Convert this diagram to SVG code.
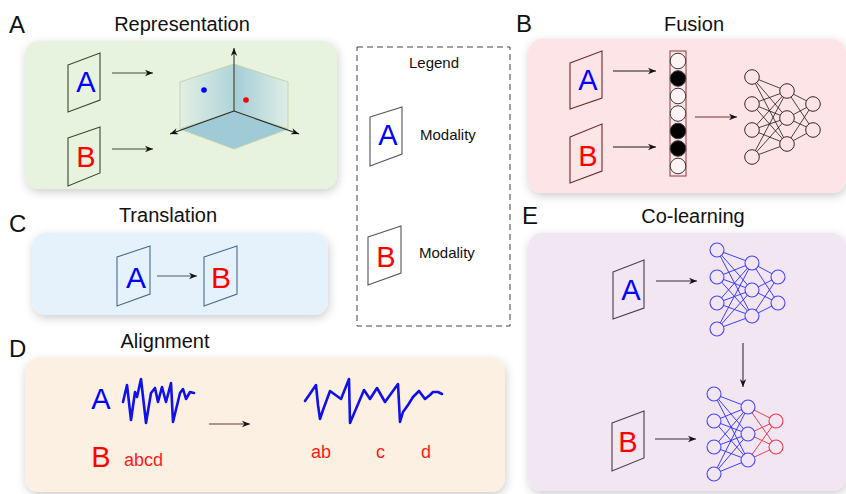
<svg xmlns="http://www.w3.org/2000/svg" width="846" height="494" viewBox="0 0 846 494">
<style>
text{font-family:"Liberation Sans",Arial,sans-serif}
.title{font-size:20px;fill:#111;text-anchor:middle}
.plabel{font-size:24px;fill:#111}
.la{font-size:29px;fill:#0000ff;text-anchor:middle}
.lb{font-size:29px;fill:#ff0000;text-anchor:middle}
.panel{filter:url(#sh)}
.card{fill:none;stroke-width:1.1}
.leg{font-size:15px;fill:#111}
.arr{fill:none;stroke-width:1.1;marker-end:url(#ah)}
.nnb line{stroke:#1a1a1a;stroke-width:0.8}
.nnb circle{fill:#fde5e7;stroke:#4a2020;stroke-width:1}
.blue line{stroke:#2b2bff;stroke-width:0.9}
.blue circle{fill:#f2e6f3;stroke:#4545ff;stroke-width:1.1}
.red line{stroke:#e83040;stroke-width:0.9}
.red circle{fill:#f2e6f3;stroke:#ec3a4a;stroke-width:1.1}
.wave{fill:none;stroke:#1010e8;stroke-width:2.6;stroke-linejoin:round;stroke-linecap:round}
.ab{font-size:18px;fill:#ff1a1a}
</style>
<defs>
<filter id="sh" x="-10%" y="-15%" width="120%" height="130%">
<feDropShadow dx="1" dy="3" stdDeviation="5" flood-color="#000" flood-opacity="0.2"/>
</filter>
<marker id="ah" viewBox="0 0 10 10" refX="10" refY="5" markerWidth="8" markerHeight="8" markerUnits="userSpaceOnUse" orient="auto">
<path d="M0,1 L10,5 L0,9 L3,5 Z" fill="#111"/>
</marker>
<linearGradient id="lw" x1="0" y1="0" x2="1" y2="0">
<stop offset="0" stop-color="#e3efe3"/>
<stop offset="1" stop-color="#b0d4da"/>
</linearGradient>
<linearGradient id="rw" x1="0" y1="0" x2="1" y2="0">
<stop offset="0" stop-color="#a3cdd7"/>
<stop offset="1" stop-color="#dfede6"/>
</linearGradient>
</defs>
<rect width="846" height="494" fill="#ffffff"/>

<!-- Panel A: Representation -->
<g id="panelA">
<rect class="panel" x="25" y="41" width="312" height="148" rx="14" fill="#e8f3df"/>
<text class="plabel" x="9" y="33">A</text>
<text class="title" x="182" y="31">Representation</text>
<g id="repA">
<path class="card" d="M68,65 L100,53 L100,100 L68,112 Z" stroke="#3b4a2b"/>
<text class="la" x="86" y="92">A</text>
</g>
<g id="repB">
<path class="card" d="M68,138 L100,127 L100,173 L68,186 Z" stroke="#3b4a2b"/>
<text class="lb" x="86" y="167">B</text>
</g>
<g id="space">
<path d="M180,82 L234,64 L234,111 L180,129 Z" fill="url(#lw)" stroke="#c5d2ad" stroke-width="1"/>
<path d="M234,64 L288,82 L288,129 L234,111 Z" fill="url(#rw)" stroke="#c5d2ad" stroke-width="1"/>
<path d="M180,129 L234,111 L288,129 L234,149 Z" fill="#a0cbd6" stroke="#c5d2ad" stroke-width="1"/>
<line x1="234" y1="111" x2="234" y2="48" stroke="#3a3a3a" stroke-width="1.1" marker-end="url(#ah)"/>
<line x1="234" y1="111" x2="170" y2="134" stroke="#2a2a2a" stroke-width="1.1" marker-end="url(#ah)"/>
<line x1="234" y1="111" x2="299" y2="134" stroke="#2a2a2a" stroke-width="1.1" marker-end="url(#ah)"/>
<circle cx="204" cy="90" r="2.8" fill="#0000ff"/>
<circle cx="246" cy="100" r="2.8" fill="#ff0000"/>
</g>
</g>

<!-- Legend -->
<g id="legend">
<rect x="357" y="47" width="153" height="279" fill="#ffffff" stroke="#444" stroke-width="1" stroke-dasharray="6 4"/>
<text class="leg" x="434" y="68" text-anchor="middle">Legend</text>
<g id="legendA">
<path class="card" d="M370,117 L402,107 L402,154 L370,166 Z" stroke="#555"/>
<text class="la" x="388" y="145">A</text>
<text class="leg" x="420" y="140">Modality</text>
</g>
<g id="legendB">
<path class="card" d="M368,237 L401,226 L401,273 L368,285 Z" stroke="#555"/>
<text class="lb" x="386" y="267">B</text>
<text class="leg" x="419" y="258">Modality</text>
</g>
</g>

<!-- Panel B: Fusion -->
<g id="panelB">
<rect class="panel" x="528" y="39" width="318" height="154" rx="14" fill="#fde5e7"/>
<text class="plabel" x="516" y="32">B</text>
<text class="title" x="694" y="31">Fusion</text>
<g id="fusA">
<path class="card" d="M570,63 L602,51 L602,98 L570,109 Z" stroke="#6b2a2a"/>
<text class="la" x="588" y="90">A</text>
</g>
<g id="fusB">
<path class="card" d="M570,137 L602,124 L602,171 L570,183 Z" stroke="#6b2a2a"/>
<text class="lb" x="588" y="166">B</text>
</g>
<g id="fusVector">
<rect x="670" y="51" width="16" height="125" fill="none" stroke="#8b3a3a" stroke-width="1"/>
<g stroke="#3a3a3a" stroke-width="1">
<circle cx="678" cy="61" r="7.8" fill="#fff3f4"/>
<circle cx="678" cy="78.5" r="7.8" fill="#000"/>
<circle cx="678" cy="96" r="7.8" fill="#fff3f4"/>
<circle cx="678" cy="113.5" r="7.8" fill="#fff3f4"/>
<circle cx="678" cy="131" r="7.8" fill="#000"/>
<circle cx="678" cy="148.5" r="7.8" fill="#000"/>
<circle cx="678" cy="166" r="7.8" fill="#fff3f4"/>
</g>
</g>
<g id="fusNet" class="nnb">
<line x1="752" y1="77" x2="787" y2="91"/><line x1="752" y1="77" x2="787" y2="118"/><line x1="752" y1="77" x2="787" y2="144"/>
<line x1="752" y1="104" x2="787" y2="91"/><line x1="752" y1="104" x2="787" y2="118"/><line x1="752" y1="104" x2="787" y2="144"/>
<line x1="752" y1="130" x2="787" y2="91"/><line x1="752" y1="130" x2="787" y2="118"/><line x1="752" y1="130" x2="787" y2="144"/>
<line x1="752" y1="157" x2="787" y2="91"/><line x1="752" y1="157" x2="787" y2="118"/><line x1="752" y1="157" x2="787" y2="144"/>
<line x1="787" y1="91" x2="813" y2="104"/><line x1="787" y1="91" x2="813" y2="130"/>
<line x1="787" y1="118" x2="813" y2="104"/><line x1="787" y1="118" x2="813" y2="130"/>
<line x1="787" y1="144" x2="813" y2="104"/><line x1="787" y1="144" x2="813" y2="130"/>
<circle cx="752" cy="77" r="7.3"/><circle cx="752" cy="104" r="7.3"/><circle cx="752" cy="130" r="7.3"/><circle cx="752" cy="157" r="7.3"/>
<circle cx="787" cy="91" r="7.3"/><circle cx="787" cy="118" r="7.3"/><circle cx="787" cy="144" r="7.3"/>
<circle cx="813" cy="104" r="7.3"/><circle cx="813" cy="130" r="7.3"/>
</g>
</g>

<!-- Panel C: Translation -->
<g id="panelC">
<rect class="panel" x="32" y="233" width="296" height="82" rx="14" fill="#e6f2fb"/>
<text class="plabel" x="9" y="232">C</text>
<text class="title" x="168" y="222">Translation</text>
<g id="trA">
<path class="card" d="M117,257 L150,246 L150,294 L117,306 Z" stroke="#4a6a8a"/>
<text class="la" x="136" y="288" style="font-size:30px">A</text>
</g>
<g id="trB">
<path class="card" d="M204,257 L237,246 L237,294 L204,306 Z" stroke="#4a6a8a"/>
<text class="lb" x="221" y="288" style="font-size:30px">B</text>
</g>
</g>

<!-- Panel D: Alignment -->
<g id="panelD">
<rect class="panel" x="25" y="358" width="480" height="134" rx="14" fill="#fcf0e3"/>
<text class="plabel" x="9" y="357">D</text>
<text class="title" x="165" y="348">Alignment</text>
<g id="alA">
<text class="la" x="101" y="409">A</text>
<polyline class="wave" points="123,402 127,385 131,420 135,392 137,397 141,379 146,423 151,393 155,388 158,402 162,387 166,402 171,383 173,422 180,393 183,389 186,399 190,392 194,393"/>
</g>
<g id="alB">
<text class="lb" x="101" y="467">B</text>
<text class="ab" x="124" y="466">abcd</text>
</g>
<g id="alAligned">
<polyline class="wave" points="305,401 316,385 318,405 320,419 323,410 330,391 341,399 349,379 350,423 364,390 370,399 377,388 385,402 398,384 400,422 403,412 408,405 413,397 419,391 425,399 430,395 433,392 438,392 442,394"/>
<text class="ab" x="311" y="458">ab</text>
<text class="ab" x="376" y="458">c</text>
<text class="ab" x="421" y="458">d</text>
</g>
</g>

<!-- Panel E: Co-learning -->
<g id="panelE">
<rect class="panel" x="528" y="233" width="318" height="258" rx="14" fill="#f2e6f3"/>
<text class="plabel" x="522" y="224">E</text>
<text class="title" x="693" y="223">Co-learning</text>
<g id="coA">
<path class="card" d="M613,272 L644,260 L644,308 L613,319 Z" stroke="#4a3a4a"/>
<text class="la" x="631" y="300">A</text>
</g>
<g id="coB">
<path class="card" d="M612,423 L644,411 L644,458 L612,471 Z" stroke="#4a3a4a"/>
<text class="lb" x="628" y="452">B</text>
</g>
<g id="coNetA" class="blue">
<line x1="717" y1="250" x2="752" y2="263"/><line x1="717" y1="250" x2="752" y2="290"/><line x1="717" y1="250" x2="752" y2="316"/>
<line x1="717" y1="277" x2="752" y2="263"/><line x1="717" y1="277" x2="752" y2="290"/><line x1="717" y1="277" x2="752" y2="316"/>
<line x1="717" y1="303" x2="752" y2="263"/><line x1="717" y1="303" x2="752" y2="290"/><line x1="717" y1="303" x2="752" y2="316"/>
<line x1="717" y1="329" x2="752" y2="263"/><line x1="717" y1="329" x2="752" y2="290"/><line x1="717" y1="329" x2="752" y2="316"/>
<line x1="752" y1="263" x2="778" y2="277"/><line x1="752" y1="263" x2="778" y2="303"/>
<line x1="752" y1="290" x2="778" y2="277"/><line x1="752" y1="290" x2="778" y2="303"/>
<line x1="752" y1="316" x2="778" y2="277"/><line x1="752" y1="316" x2="778" y2="303"/>
<circle cx="717" cy="250" r="7"/><circle cx="717" cy="277" r="7"/><circle cx="717" cy="303" r="7"/><circle cx="717" cy="329" r="7"/>
<circle cx="752" cy="263" r="7"/><circle cx="752" cy="290" r="7"/><circle cx="752" cy="316" r="7"/>
<circle cx="778" cy="277" r="7"/><circle cx="778" cy="303" r="7"/>
</g>
<g id="coNetB">
<g class="red">
<line x1="748" y1="407" x2="776" y2="421"/><line x1="748" y1="407" x2="776" y2="447"/>
<line x1="748" y1="434" x2="776" y2="421"/><line x1="748" y1="434" x2="776" y2="447"/>
<line x1="748" y1="460" x2="776" y2="421"/><line x1="748" y1="460" x2="776" y2="447"/>
<circle cx="776" cy="421" r="7"/><circle cx="776" cy="447" r="7"/>
</g>
<g class="blue">
<line x1="714" y1="394" x2="748" y2="407"/><line x1="714" y1="394" x2="748" y2="434"/><line x1="714" y1="394" x2="748" y2="460"/>
<line x1="714" y1="421" x2="748" y2="407"/><line x1="714" y1="421" x2="748" y2="434"/><line x1="714" y1="421" x2="748" y2="460"/>
<line x1="714" y1="447" x2="748" y2="407"/><line x1="714" y1="447" x2="748" y2="434"/><line x1="714" y1="447" x2="748" y2="460"/>
<line x1="714" y1="474" x2="748" y2="407"/><line x1="714" y1="474" x2="748" y2="434"/><line x1="714" y1="474" x2="748" y2="460"/>
<circle cx="714" cy="394" r="7"/><circle cx="714" cy="421" r="7"/><circle cx="714" cy="447" r="7"/><circle cx="714" cy="474" r="7"/>
<circle cx="748" cy="407" r="7"/><circle cx="748" cy="434" r="7"/><circle cx="748" cy="460" r="7"/>
</g>
</g>
</g>

<!-- Connectors -->
<g id="connectors">
<line class="arr" x1="112" y1="73" x2="153" y2="73" stroke="#3d4a30"/>
<line class="arr" x1="112" y1="149" x2="153" y2="149" stroke="#3d4a30"/>
<line class="arr" x1="613" y1="71" x2="656" y2="71" stroke="#1a1a1a"/>
<line class="arr" x1="613" y1="147" x2="656" y2="147" stroke="#1a1a1a"/>
<line class="arr" x1="695" y1="117" x2="737" y2="117" stroke="#7a2a2a"/>
<line class="arr" x1="157" y1="276" x2="197" y2="276" stroke="#4a5a6a"/>
<line class="arr" x1="209" y1="424" x2="250" y2="424" stroke="#5a3a2a"/>
<line class="arr" x1="656" y1="281" x2="697" y2="281" stroke="#3a2a3a"/>
<line class="arr" x1="655" y1="439" x2="696" y2="439" stroke="#3a2a3a"/>
<line class="arr" x1="743" y1="343" x2="743" y2="387" stroke="#3a2a3a"/>
</g>
</svg>
